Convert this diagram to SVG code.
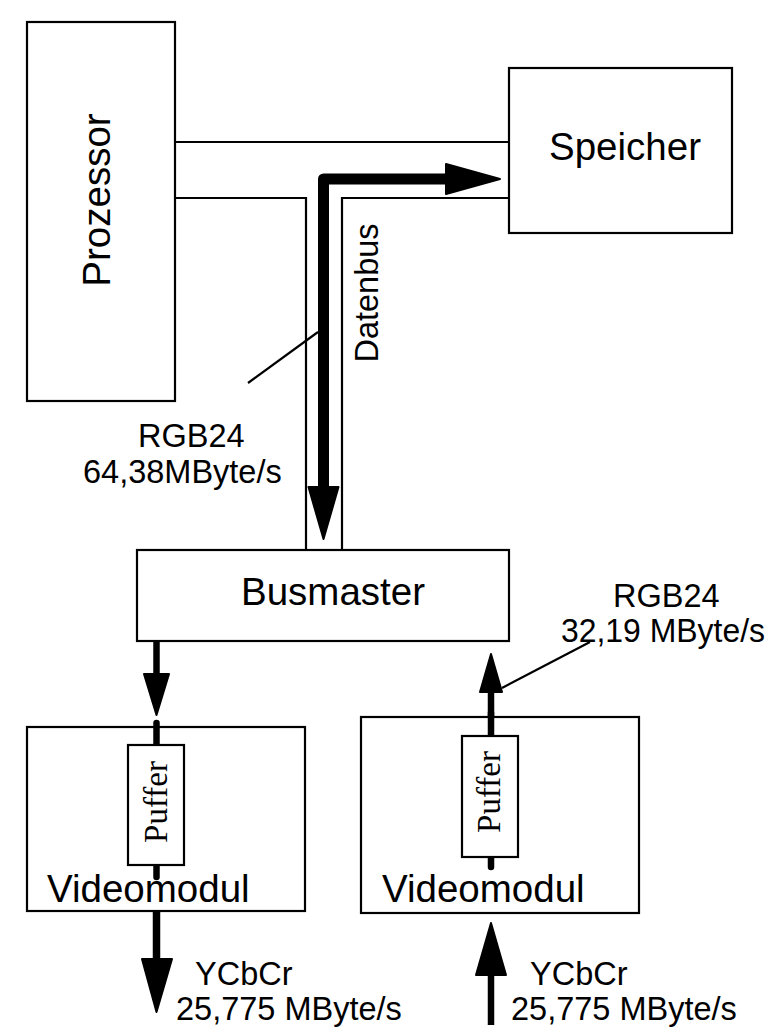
<svg xmlns="http://www.w3.org/2000/svg" width="769" height="1029" viewBox="0 0 769 1029">
<style>
.box{fill:#fff;stroke:#000;stroke-width:2.2}
.ln{fill:none;stroke:#000;stroke-width:2.2}
.thick{fill:none;stroke:#000;stroke-width:6.5;stroke-linecap:round}
.bus{fill:none;stroke:#000;stroke-width:11;stroke-linejoin:round}
.head{fill:#000;stroke:#000;stroke-width:2;stroke-linejoin:round}
.big{font-family:"Liberation Sans",Arial,sans-serif;font-size:38.5px;fill:#000}
.lbl{font-family:"Liberation Sans",Arial,sans-serif;font-size:32.5px;fill:#000}
.ser{font-family:"Liberation Serif","Times New Roman",serif;font-size:33px;fill:#000}
</style>
<rect width="769" height="1029" fill="#fff"/>
<g id="connectors">
<line class="ln" x1="175" y1="142" x2="509" y2="142"/>
<polyline class="ln" points="175,198 306,198 306,550"/>
<polyline class="ln" points="509,198 342,198 342,550"/>
<path class="bus" d="M323.5,490 L323.5,179 L448,179"/>
<polygon class="head" points="446,164 500,179 446,194"/>
<polygon class="head" points="308.5,487 338.5,487 323.5,539"/>
<line class="ln" x1="248" y1="383" x2="318" y2="332"/>
<line class="thick" x1="156.5" y1="641" x2="156.5" y2="676" style="stroke-linecap:butt"/>
<polygon class="head" points="144,674 169,674 156.5,715"/>
<line class="thick" x1="491" y1="736" x2="491" y2="690" style="stroke-linecap:butt"/>
<polygon class="head" points="480,692 502,692 491,654"/>
<line class="ln" x1="502" y1="688" x2="590" y2="642"/>
<line class="thick" x1="156.5" y1="911" x2="156.5" y2="962" style="stroke-linecap:butt;stroke-width:7.5"/>
<polygon class="head" points="142,959 172,959 156.5,1012"/>
<line class="thick" x1="491" y1="1025" x2="491" y2="972" style="stroke-linecap:butt"/>
<polygon class="head" points="476,975 506,975 491,923"/>
</g>
<g id="prozessor">
<rect class="box" x="27" y="22" width="148" height="379"/>
<text class="big" transform="translate(110,200) rotate(-90)" text-anchor="middle">Prozessor</text>
</g>
<g id="speicher">
<rect class="box" x="509" y="68" width="223" height="165"/>
<text class="big" x="625" y="160" text-anchor="middle">Speicher</text>
</g>
<g id="datenbus-label">
<text class="lbl" transform="translate(378,293) rotate(-90)" text-anchor="middle">Datenbus</text>
</g>
<g id="rgb-left-label">
<text class="lbl" x="138" y="447">RGB24</text>
<text class="lbl" x="83" y="483">64,38MByte/s</text>
</g>
<g id="busmaster">
<rect class="box" x="137" y="550" width="372" height="91"/>
<text class="big" x="333" y="605" text-anchor="middle">Busmaster</text>
</g>
<g id="rgb-right-label">
<text class="lbl" x="613" y="607">RGB24</text>
<text class="lbl" x="561" y="642" textLength="204" lengthAdjust="spacingAndGlyphs">32,19 MByte/s</text>
</g>
<g id="videomodul-left">
<rect class="box" x="27" y="727" width="278" height="184"/>
<line class="thick" x1="156.5" y1="723" x2="156.5" y2="745"/>
<line class="thick" x1="156.5" y1="865" x2="156.5" y2="877"/>
<rect class="box" x="128" y="745" width="56" height="120"/>
<text class="ser" transform="translate(167,802) rotate(-90)" text-anchor="middle">Puffer</text>
<text class="big" x="47" y="902">Videomodul</text>
</g>
<g id="videomodul-right">
<rect class="box" x="361" y="717" width="278" height="196"/>
<line class="thick" x1="491" y1="713" x2="491" y2="736"/>
<line class="thick" x1="491" y1="857" x2="491" y2="867"/>
<rect class="box" x="462" y="736" width="56" height="121"/>
<text class="ser" transform="translate(500,792) rotate(-90)" text-anchor="middle">Puffer</text>
<text class="big" x="382" y="902">Videomodul</text>
</g>
<g id="ycbcr-left-label">
<text class="lbl" x="195" y="985">YCbCr</text>
<text class="lbl" x="176" y="1020">25,775 MByte/s</text>
</g>
<g id="ycbcr-right-label">
<text class="lbl" x="530" y="985">YCbCr</text>
<text class="lbl" x="511" y="1020">25,775 MByte/s</text>
</g>
</svg>
